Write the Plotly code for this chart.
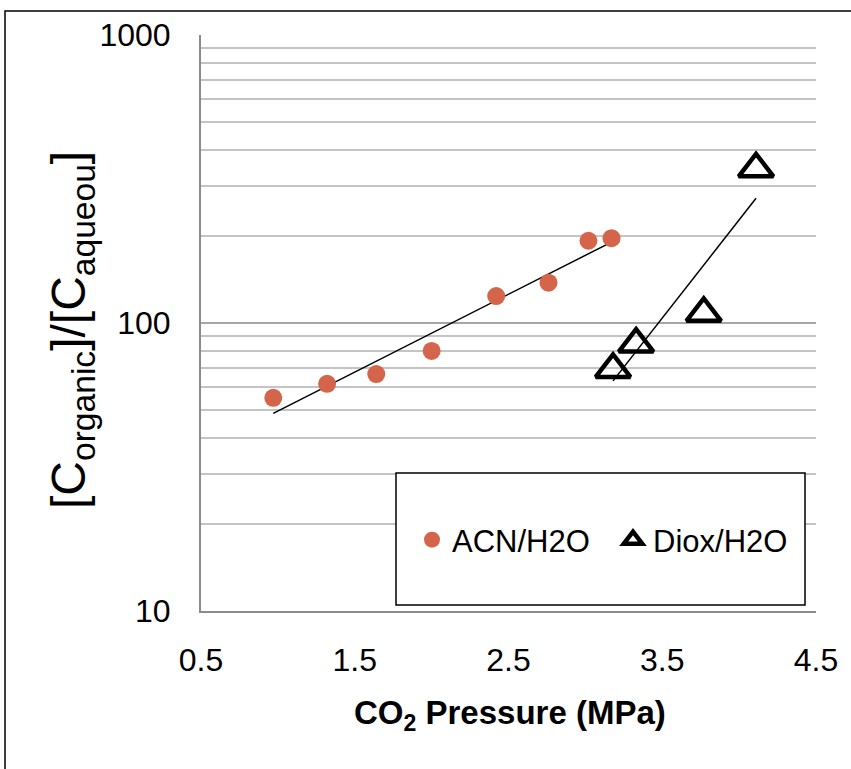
import numpy as np
import plotly.graph_objects as go

# Data
acn_x = [0.97, 1.32, 1.64, 2.00, 2.42, 2.76, 3.02, 3.17]
acn_y = [55, 61.5, 66.5, 80, 124, 138, 193, 197]
diox_x = [3.18, 3.33, 3.77, 4.11]
diox_y = [69, 84.5, 108, 343]

y_tickvals = [10, 100, 1000]
y_ticktext = ["10", "100", "1000"]
x_tickvals = [0.5, 1.5, 2.5, 3.5, 4.5]
x_ticktext = ["0.5", "1.5", "2.5", "3.5", "4.5"]

FONT = "Arial, 'Liberation Sans', sans-serif"


def exp_trend(xs, ys):
    xs = np.asarray(xs, float)
    b, a = np.polyfit(xs, np.log10(ys), 1)
    xt = np.array([xs.min(), xs.max()])
    return xt, 10 ** (a + b * xt)


fig = go.Figure()

tx, ty = exp_trend(acn_x, acn_y)
fig.add_trace(go.Scatter(x=tx, y=ty, mode="lines", line=dict(color="black", width=1.5),
                         showlegend=False, hoverinfo="skip"))
tx2, ty2 = exp_trend(diox_x, diox_y)
fig.add_trace(go.Scatter(x=tx2, y=ty2, mode="lines", line=dict(color="black", width=1.5),
                         showlegend=False, hoverinfo="skip"))

fig.add_trace(go.Scatter(x=acn_x, y=acn_y, mode="markers", name="ACN/H2O",
                         marker=dict(symbol="circle", size=18, color="#D4654B")))
fig.add_trace(go.Scatter(x=diox_x, y=diox_y, mode="markers", name="Diox/H2O",
                         marker=dict(symbol="triangle-up-open", size=30, color="black",
                                     line=dict(width=4.5, color="black"))))

L, R, T, B = 201, 35, 35, 158
W, H = 851, 769
pw, ph = W - L - R, H - T - B


def px(xp):
    return (xp - L) / pw


def py(yp):
    return (H - B - yp) / ph


fig.update_layout(
    width=W, height=H,
    margin=dict(l=L, r=R, t=T, b=B),
    paper_bgcolor="white", plot_bgcolor="white",
    font=dict(family=FONT, size=32, color="black"),
    xaxis=dict(range=[0.5, 4.5], tickvals=x_tickvals, ticktext=x_ticktext,
               showgrid=False, zeroline=False, showline=True, linecolor="#8c8c8c", linewidth=2,
               ticks="", ticklabelstandoff=20, tickfont=dict(size=32)),
    yaxis=dict(type="log", range=[1, 3], tickvals=y_tickvals, ticktext=y_ticktext,
               showgrid=True, gridcolor="#a6a6a6", gridwidth=2,
               minor=dict(showgrid=True, gridcolor="#c4c4c4", gridwidth=1.5, dtick="D1"),
               zeroline=False, showline=True, linecolor="#8c8c8c", linewidth=2,
               ticks="", ticklabelstandoff=22, tickfont=dict(size=32)),
    legend=dict(orientation="h", x=px(412), y=py(540), xanchor="left", yanchor="middle",
                bgcolor="rgba(0,0,0,0)", borderwidth=0, font=dict(size=31),
                entrywidth=156, entrywidthmode="pixels"),
    showlegend=True,
)

# legend frame and outer frame
fig.add_shape(type="rect", xref="paper", yref="paper",
              x0=px(396), x1=px(805), y0=py(605), y1=py(473),
              line=dict(color="black", width=1.5), fillcolor="white", layer="above")
fig.add_shape(type="rect", xref="paper", yref="paper",
              x0=px(5), x1=px(900), y0=py(800), y1=py(11),
              line=dict(color="black", width=1.5), fillcolor="rgba(0,0,0,0)", layer="above")

fig.add_annotation(text="[C<sub>organic</sub>]/[C<sub>aqueou</sub>]", xref="paper", yref="paper",
                   x=px(72), y=py(330), textangle=-90, showarrow=False,
                   font=dict(size=48, family=FONT), xanchor="center", yanchor="middle")
fig.add_annotation(text="<b>CO<sub>2</sub> Pressure (MPa)</b>", xref="paper", yref="paper",
                   x=px(510), y=py(715), showarrow=False,
                   font=dict(size=33, family=FONT), xanchor="center", yanchor="middle")

fig.write_html("out.html")
